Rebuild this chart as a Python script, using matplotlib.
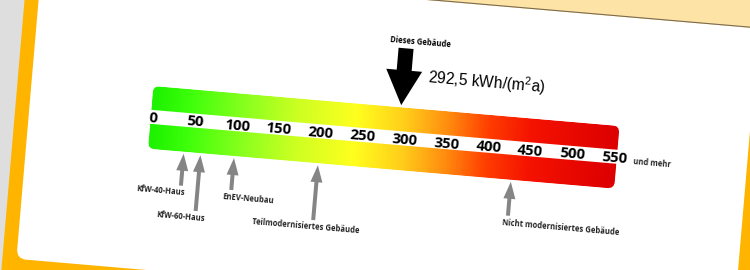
import matplotlib
matplotlib.use('Agg')
import matplotlib.pyplot as plt
import numpy as np
from matplotlib.transforms import Affine2D
from matplotlib.patches import FancyBboxPatch, Rectangle, FancyArrow
from matplotlib.colors import LinearSegmentedColormap

plt.rcParams['mathtext.default'] = 'regular'

# Daten
scale_ticks = [0, 50, 100, 150, 200, 250, 300, 350, 400, 450, 500, 550]
scale_max = 550
building_value = 292.5
building_label = 'Dieses Gebäude'
building_text = '292,5 kWh/(m$^2$a)'
ref_names = ['KfW-40-Haus', 'KfW-60-Haus', 'EnEV-Neubau',
             'Teilmodernisiertes Gebäude', 'Nicht modernisiertes Gebäude']
ref_values = [40, 60, 100, 200, 430]

# Layout (Pixel im gedrehten Rahmen)
ref_tail = [66, 90, 66, 89, 68]
ref_label_dx = [-20, -14, 18, -7, 54]

# Farbverlauf gruen -> gelb -> rot
grad_stops = [(0, '#1ef200'), (40, '#3cff0a'), (110, '#8cff1e'), (170, '#ccff22'),
              (240, '#ffff1e'), (300, '#ffcc1a'), (350, '#ff8c0f'), (400, '#ff3c00'),
              (450, '#f51200'), (550, '#dd0000')]
cmap = LinearSegmentedColormap.from_list('energie', [(v / scale_max, c) for v, c in grad_stops])

fig = plt.figure(figsize=(7.5, 2.7), dpi=100)
fig.patch.set_facecolor('#dedede')
ax = fig.add_axes([0, 0, 1, 1])
ax.set_xlim(0, 750)
ax.set_ylim(270, 0)
ax.axis('off')

K = 0.842      # Pixel pro kWh
ANGLE = 4.9
rot = Affine2D().rotate_deg(ANGLE).translate(153, 117)
T_px = rot + ax.transData
T_val = Affine2D().scale(K, 1) + rot + ax.transData

# Hintergrund: oranger Rahmen, Pfirsich oben, weisse Karte
ax.add_patch(Rectangle((-138, -400), 1000, 800, facecolor='#ffb400', edgecolor='none',
                       transform=T_px, zorder=0.1))
ax.add_patch(Rectangle((-138, -400), 1000, 260, facecolor='#fde3a6', edgecolor='none',
                       transform=T_px, zorder=0.2))
ax.add_patch(FancyBboxPatch((-124, -140), 720, 293, boxstyle='round,pad=0,rounding_size=10',
                            facecolor='white', edgecolor='none', transform=T_px, zorder=0.3))
ax.plot([-124, 900], [-140.5, -140.5], color='#7a6a50', lw=0.8, transform=T_px, zorder=0.4)

# Farbbalken
lo, hi = -3, scale_max + 3
u = np.linspace(lo, hi, 600)
grad = cmap(np.clip(u / scale_max, 0, 1))[np.newaxis, :, :]
im = ax.imshow(grad, extent=[lo, hi, 32, -31], aspect='auto', interpolation='bilinear', zorder=1)
im.set_transform(T_val)
bar_shape = FancyBboxPatch((lo * K, -31), (hi - lo) * K, 63, boxstyle='round,pad=0,rounding_size=7',
                           transform=T_px)
im.set_clip_path(bar_shape)
ax.add_patch(Rectangle((-20, -7), 520, 14, facecolor='white', edgecolor='none',
                       transform=T_px, zorder=1.5))

for t in scale_ticks:
    ax.text(t, 5.5, str(t), transform=T_val, rotation=-ANGLE, rotation_mode='anchor',
            ha='center', va='baseline', fontsize=10.8, fontweight='bold',
            family='Open Sans', color='black', zorder=3)
ax.text(scale_max + 19 / K, 5.5, 'und mehr', transform=T_val, rotation=-ANGLE,
        rotation_mode='anchor', ha='left', va='baseline', fontsize=5.5,
        fontweight='bold', family='Open Sans', color='#222222', zorder=3)

# Referenzpfeile
for name, val, tail, dx in zip(ref_names, ref_values, ref_tail, ref_label_dx):
    ax.add_patch(FancyArrow(val, tail, 0, 34 - tail, width=4 / K, head_width=12 / K,
                            head_length=17, length_includes_head=True,
                            facecolor='#858585', edgecolor='none', transform=T_val, zorder=2))
    ax.text(val + dx / K, tail + 7, name, transform=T_val, rotation=-ANGLE,
            rotation_mode='anchor', ha='center', va='center', fontsize=5.5,
            fontweight='bold', family='Open Sans', color='#222222', zorder=3)

# Dieses Gebaeude
ax.add_patch(FancyArrow(building_value, -90, 0, 57, width=15 / K, head_width=36 / K,
                        head_length=35, length_includes_head=True,
                        facecolor='black', edgecolor='none', transform=T_val, zorder=2))
ax.text(building_value + 14 / K, -97, building_label, transform=T_val, rotation=-ANGLE,
        rotation_mode='anchor', ha='center', va='center', fontsize=5.5,
        fontweight='bold', family='Open Sans', color='black', zorder=3)
ax.text(building_value + 83 / K, -63, building_text, transform=T_val, rotation=-ANGLE,
        rotation_mode='anchor', ha='center', va='center', fontsize=11.2,
        family='Liberation Sans', color='black', zorder=3)

plt.savefig('out.png', dpi=100)
